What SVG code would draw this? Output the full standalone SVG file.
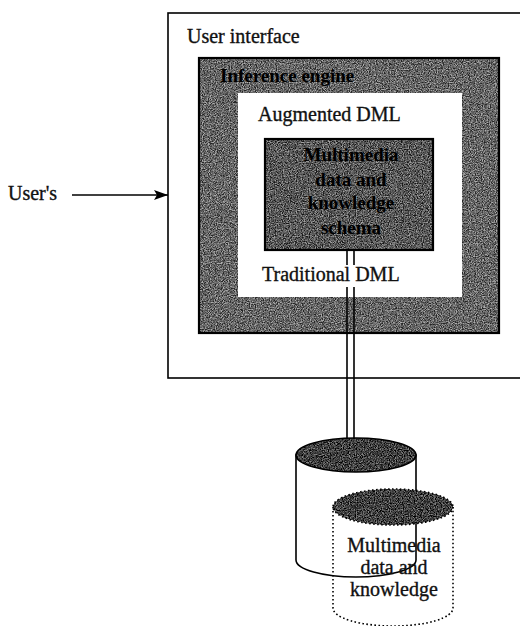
<svg xmlns="http://www.w3.org/2000/svg" width="520" height="626" viewBox="0 0 520 626">
<style>
  .lbl { font-family: "Liberation Serif", "Times New Roman", serif; font-size: 20px; fill: #111; stroke: #111; stroke-width: 0.35; }
  .dark { font-family: "Liberation Serif", "Times New Roman", serif; font-size: 19px; font-weight: bold; fill: #000; }
  .frame { fill: none; stroke: #000; stroke-width: 1.6; }
  .heavy { fill: none; stroke: #000; stroke-width: 2.2; }
  .wire { stroke: #000; stroke-width: 1.6; fill: none; }
  .dot { fill: none; stroke: #000; stroke-width: 1.6; stroke-dasharray: 1.6 2.4; }
</style>
<defs>
  <filter id="grain" x="0" y="0" width="100%" height="100%" color-interpolation-filters="sRGB">
    <feTurbulence type="fractalNoise" baseFrequency="0.85" numOctaves="2" seed="7" result="t"/>
    <feColorMatrix in="t" type="matrix" values="0.33 0.33 0.33 0 0  0.33 0.33 0.33 0 0  0.33 0.33 0.33 0 0  0 0 0 0 1" result="g"/>
    <feComponentTransfer in="g" result="c">
      <feFuncR type="linear" slope="4" intercept="-1.5"/>
      <feFuncG type="linear" slope="4" intercept="-1.5"/>
      <feFuncB type="linear" slope="4" intercept="-1.5"/>
    </feComponentTransfer>
    <feComposite in="c" in2="SourceGraphic" operator="arithmetic" k1="0" k2="0.55" k3="0.85" k4="-0.22" result="m"/>
    <feComposite in="m" in2="SourceGraphic" operator="in"/>
  </filter>
  <marker id="arrow" viewBox="0 0 14 10" refX="14" refY="5" markerWidth="14" markerHeight="10" markerUnits="userSpaceOnUse" orient="auto">
    <path d="M0,0 L14,5 L0,10 L3,5 Z" fill="#000"/>
  </marker>
</defs>

<g id="user-interface">
  <rect x="168" y="13" width="360" height="365" fill="#fff" class="frame"/>
  <text class="lbl" x="187" y="43">User interface</text>
</g>

<g id="inference-engine">
  <rect x="199" y="58" width="300" height="275" fill="#6a6a6a" filter="url(#grain)"/>
  <rect x="199" y="58" width="300" height="275" class="heavy"/>
  <text class="dark" x="220" y="82">Inference engine</text>
</g>

<g id="augmented-dml">
  <rect x="238" y="93" width="224" height="204" fill="#fff"/>
  <text class="lbl" x="258" y="121">Augmented DML</text>
  <text class="lbl" x="262" y="281">Traditional DML</text>
</g>

<g id="schema">
  <rect x="265" y="139" width="168" height="111" fill="#5a5a5a" filter="url(#grain)"/>
  <rect x="265" y="139" width="168" height="111" class="heavy"/>
  <text class="dark" x="351" y="161" text-anchor="middle">Multimedia</text>
  <text class="dark" x="351" y="186" text-anchor="middle">data and</text>
  <text class="dark" x="351" y="209" text-anchor="middle">knowledge</text>
  <text class="dark" x="351" y="234" text-anchor="middle">schema</text>
</g>

<g id="users">
  <text class="lbl" x="8" y="200">User's</text>
</g>

<g id="database-1">
  <path d="M296,455 L296,560 A60,17 0 0 0 416,560 L416,455 Z" fill="#fff" class="wire"/>
  <ellipse cx="356" cy="455" rx="60" ry="17" fill="#3e3e3e" filter="url(#grain)"/>
  <ellipse cx="356" cy="455" rx="60" ry="17" class="wire"/>
</g>

<g id="database-2">
  <ellipse cx="393" cy="507" rx="60" ry="18" fill="#3e3e3e" filter="url(#grain)"/>
  <ellipse cx="393" cy="507" rx="60" ry="18" class="dot"/>
  <path d="M333,507 L333,608 A60,18 0 0 0 453,608 L453,507" class="dot"/>
  <text class="lbl" x="394" y="552" text-anchor="middle">Multimedia</text>
  <text class="lbl" x="394" y="574" text-anchor="middle">data and</text>
  <text class="lbl" x="394" y="596" text-anchor="middle">knowledge</text>
</g>

<g id="connectors">
  <line x1="72" y1="195" x2="168" y2="195" class="wire" marker-end="url(#arrow)"/>
  <line x1="347" y1="250" x2="347" y2="265" class="wire"/>
  <line x1="354" y1="250" x2="354" y2="265" class="wire"/>
  <line x1="347" y1="287" x2="347" y2="439" class="wire"/>
  <line x1="354" y1="287" x2="354" y2="439" class="wire"/>
</g>
</svg>
